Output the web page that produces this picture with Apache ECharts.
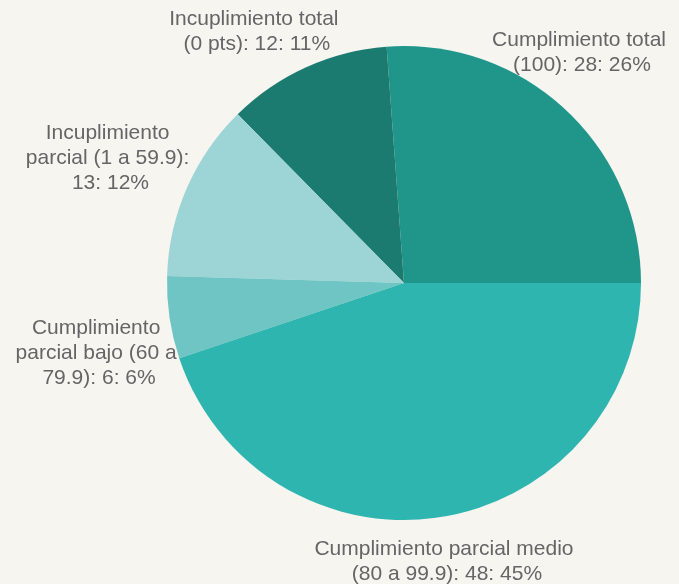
<!DOCTYPE html>
<html>
<head>
<meta charset="utf-8">
<script src="https://cdn.jsdelivr.net/npm/echarts@6/dist/echarts.min.js"></script>
<style>
html,body{margin:0;padding:0;background:#f7f5f0;}
#chart{width:679px;height:584px;}
</style>
</head>
<body>
<div id="chart"></div>
<script>
const categories = [
  'Cumplimiento total (100)',
  'Incuplimiento total (0 pts)',
  'Incuplimiento parcial (1 a 59.9)',
  'Cumplimiento parcial bajo (60 a 79.9)',
  'Cumplimiento parcial medio (80 a 99.9)'
];
const values = [28, 12, 13, 6, 48];

const colors = ['#20968b', '#1b7b71', '#9dd4d6', '#6ec5c3', '#2fb5b0'];
const wrapWidths = [180, 180, 180, 180, 270];
const labelGap = [54, 54, 82, 76, 45];
const labelTurn = [5.2, 6, 0.5, 4.6, -0.5];
const CX = 404, CY = 283, R = 237;

const total = values.reduce((a, b) => a + b, 0);
const midAngles = [];
let acc = 0;
values.forEach(v => { midAngles.push((acc + v / 2) / total * 360); acc += v; });

const chart = echarts.init(document.getElementById('chart'));
chart.setOption({
  backgroundColor: '#f7f5f0',
  animation: false,
  series: [{
    type: 'pie',
    center: [CX, CY],
    radius: R,
    startAngle: 0,
    clockwise: false,
    percentPrecision: 0,
    avoidLabelOverlap: false,
    itemStyle: { borderWidth: 0 },
    label: {
      show: true,
      position: 'outside',
      formatter: '{b}: {c}: {d}%',
      color: '#656565',
      fontFamily: 'Liberation Sans, Arial, sans-serif',
      fontSize: 21,
      lineHeight: 25,
      overflow: 'break'
    },
    labelLine: { show: false },
    labelLayout: function (p) {
      const i = p.dataIndex;
      const a = (midAngles[i] + labelTurn[i]) * Math.PI / 180;
      const d = R + labelGap[i];
      return {
        x: CX + Math.cos(a) * d,
        y: CY - Math.sin(a) * d,
        align: 'center',
        verticalAlign: 'middle'
      };
    },
    data: categories.map((c, i) => ({
      name: c,
      value: values[i],
      itemStyle: { color: colors[i] },
      label: { width: wrapWidths[i] }
    }))
  }]
});
</script>
</body>
</html>
